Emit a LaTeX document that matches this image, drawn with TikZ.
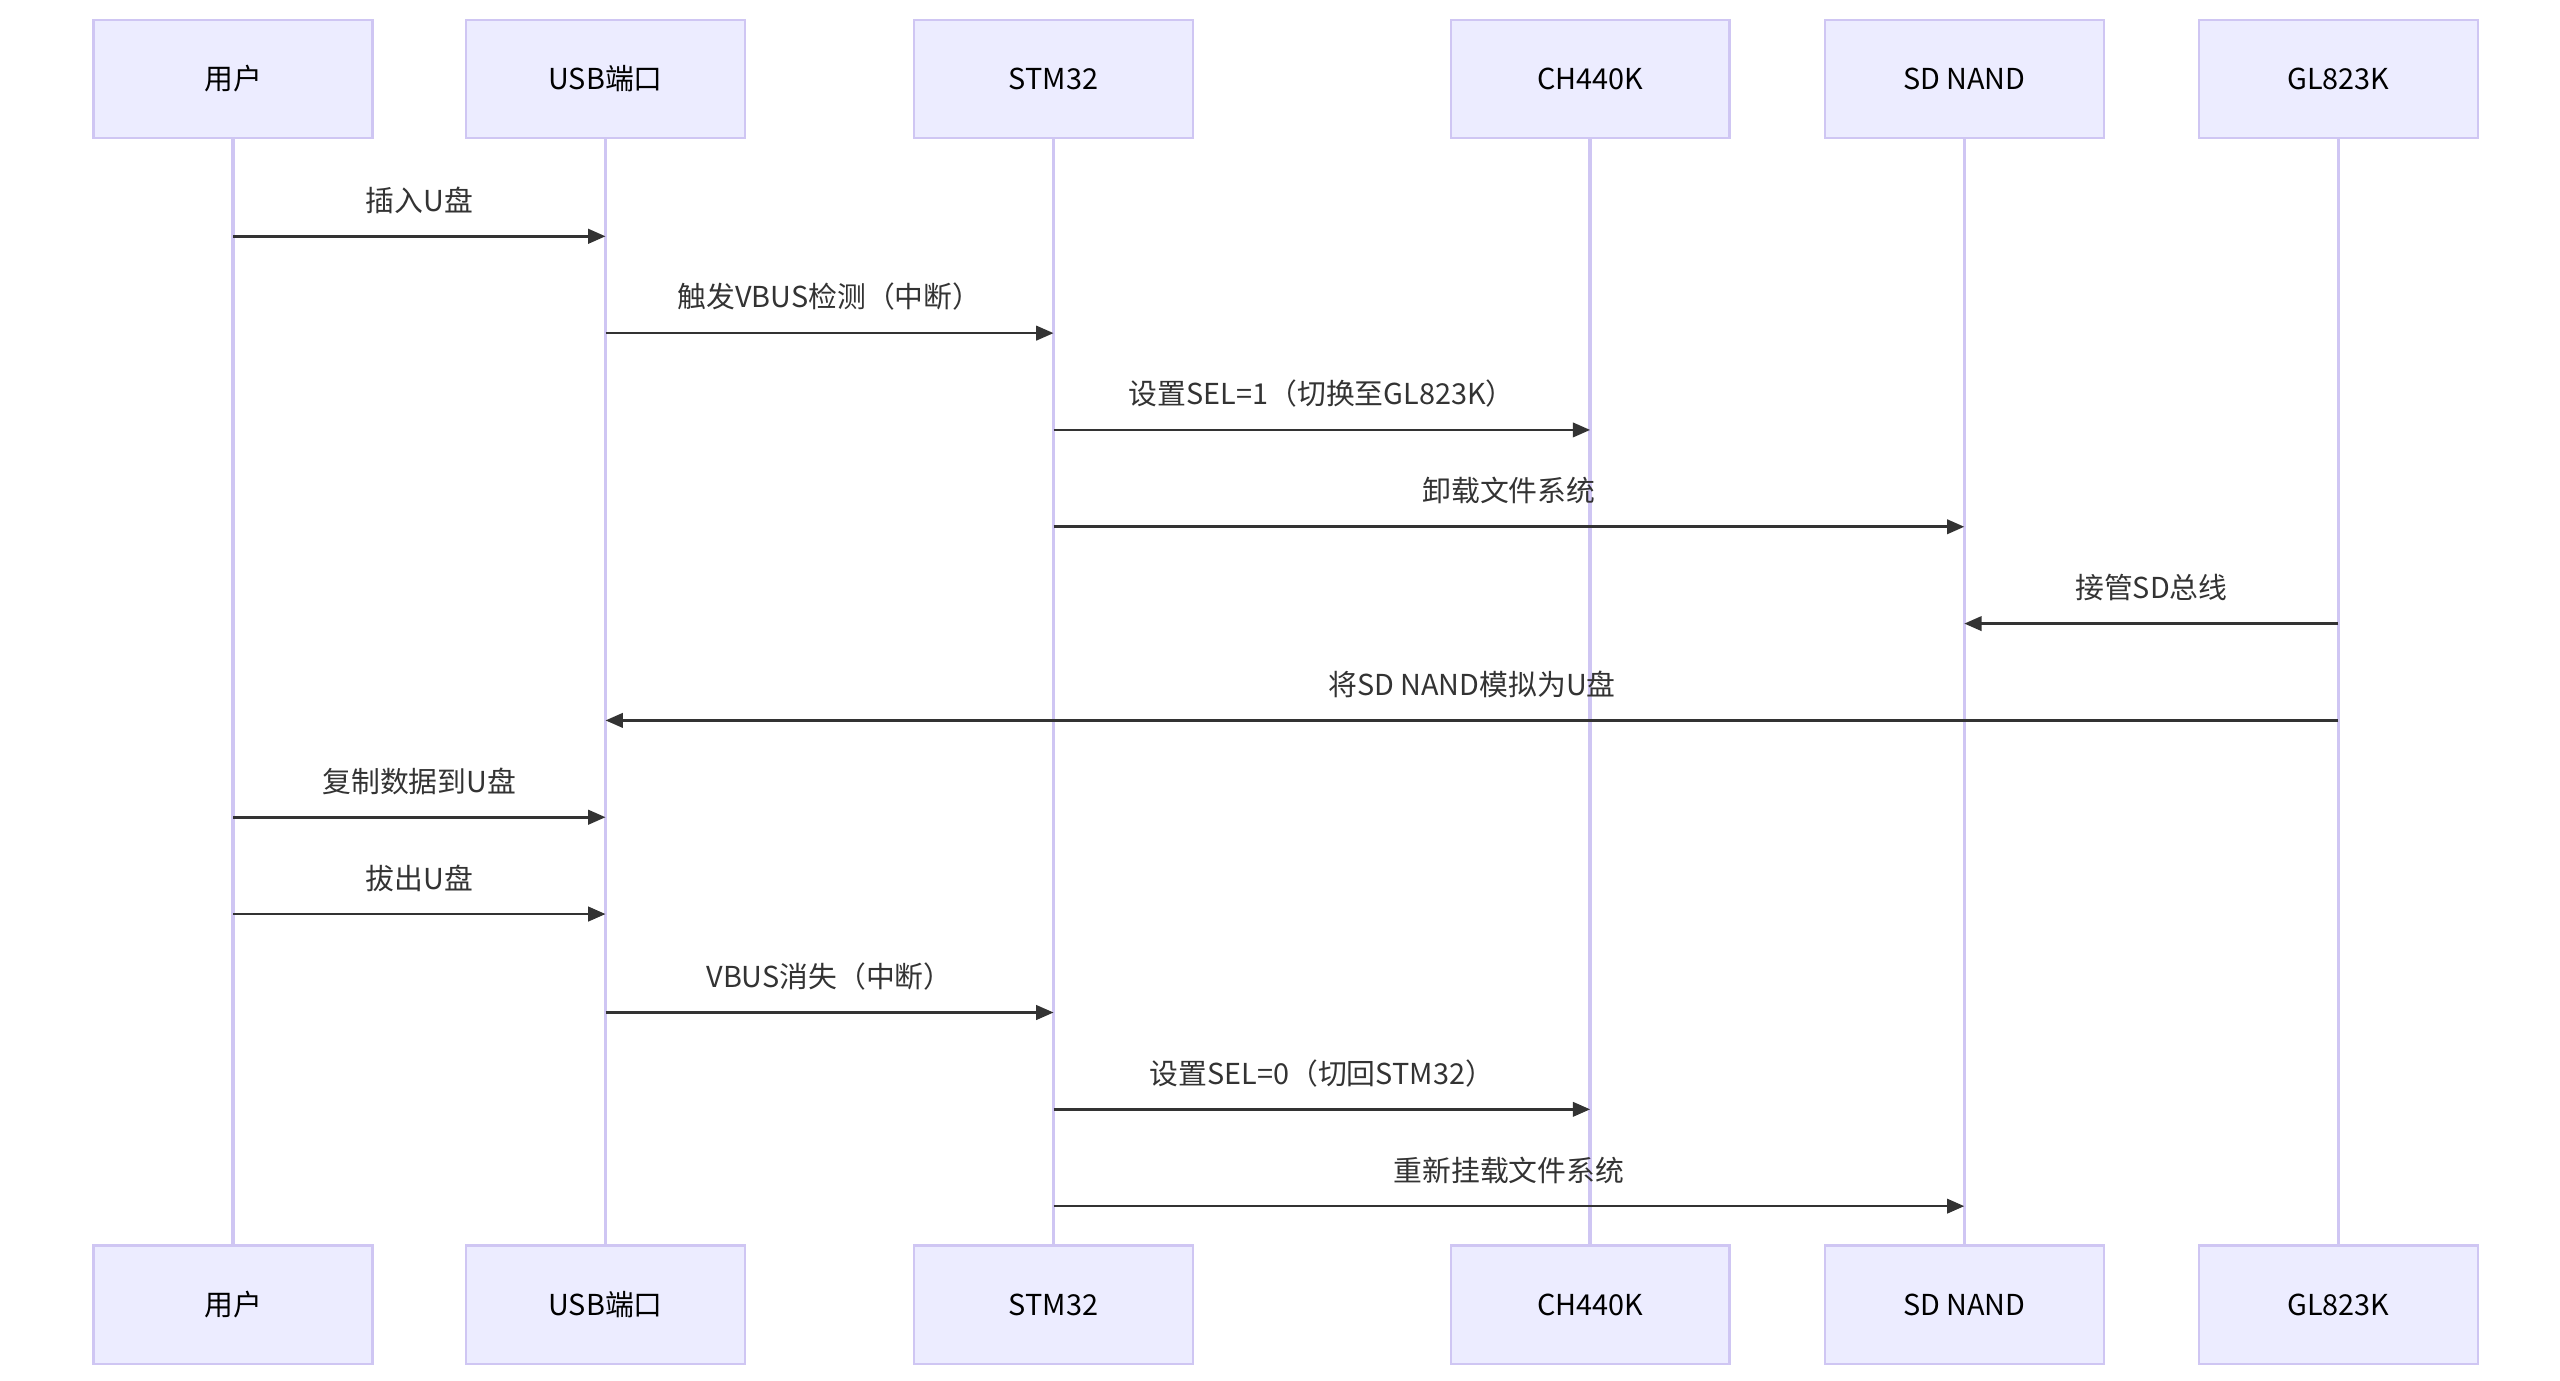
\documentclass[tikz,border=0pt]{standalone}
\usepackage{fontspec}
\setmainfont{Noto Sans CJK SC}
\usetikzlibrary{arrows.meta}
\definecolor{actfill}{HTML}{ECECFF}
\definecolor{actline}{HTML}{CFC6F3}
\definecolor{msgcol}{HTML}{333333}

\begin{document}
\begin{tikzpicture}[
  x=0.02cm,y=0.02cm,
  >={Triangle[length=6pt,width=5pt]},
  font=\fontsize{10}{12}\selectfont,
  actor/.style = {draw=actline,fill=actfill,line width=0.8pt,rectangle,
                  minimum width=3.4cm,minimum height=1.44cm,text=black},
  life/.style  = {draw=actline,line width=1.2pt},
  msg/.style   = {draw=msgcol,line width=0.9pt,->},
  msglbl/.style= {text=msgcol,above=4pt}
  ]
  \useasboundingbox (0,0) rectangle (1560,-841);
  % participants
  \foreach \i/\x/\name in {1/142/用户,2/369/USB端口,3/642/STM32,
                           4/969/CH440K,5/1197/SD NAND,6/1425/GL823K}{
    \draw[life] (\x,-84) -- (\x,-759);
    \node[actor] (t\i) at (\x,-48) {\name};
    \node[actor] (b\i) at (\x,-795) {\name};
  }
  % messages
  \foreach \k/\a/\b/\y/\txt in {1/1/2/144/插入U盘,
      2/2/3/203/触发VBUS检测（中断）,
      3/3/4/262/设置SEL=1（切换至GL823K）,
      4/3/5/321/卸载文件系统,
      5/6/5/380/接管SD总线,
      6/6/2/439/将SD NAND模拟为U盘,
      7/1/2/498/复制数据到U盘,
      8/1/2/557/拔出U盘,
      9/2/3/617/VBUS消失（中断）,
      10/3/4/676/设置SEL=0（切回STM32）,
      11/3/5/735/重新挂载文件系统}{
    \coordinate (s\k) at (t\a.center |- 0,-\y);
    \coordinate (e\k) at (t\b.center |- 0,-\y);
    \draw[msg] (s\k) -- (e\k) node[midway,msglbl] {\txt};
  }
\end{tikzpicture}
\end{document}
